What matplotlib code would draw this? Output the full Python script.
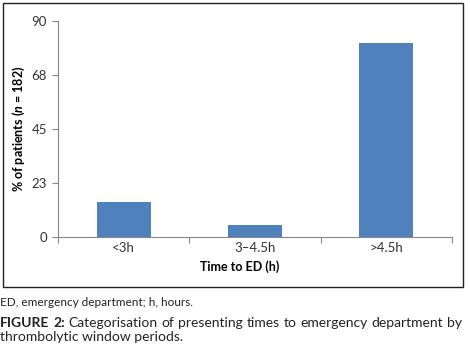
import matplotlib
matplotlib.use("Agg")
import matplotlib.pyplot as plt
from matplotlib.patches import Rectangle

# data (% of patients, n = 182)
categories = ["<3h", "3\u20134.5h", ">4.5h"]
percent = [14.3, 5.0, 80.8]
tick_vals = [0, 22.5, 45, 67.5, 90]
tick_labels = ["0", "23", "45", "68", "90"]

plt.rcParams["font.family"] = ["Lato", "DejaVu Sans"]
plt.rcParams["mathtext.fontset"] = "custom"
plt.rcParams["mathtext.bfit"] = "Lato:bold:italic"

W, H = 470, 349
fig = plt.figure(figsize=(W / 100, H / 100), dpi=100)

# outer frame round the chart
fig.patches.append(Rectangle((3 / W, 1 - 287 / H), 460 / W, 284 / H,
                             transform=fig.transFigure, fill=False,
                             edgecolor="#222222", linewidth=1.0))

ax = fig.add_axes([58 / W, 1 - 236.7 / H, 394 / W, 215.7 / H])
x = range(len(categories))
ax.bar(x, percent, width=0.41, color="#4F81BD")
ax.set_xlim(-0.5, len(categories) - 0.5)
ax.set_ylim(0, 90)
ax.set_yticks(tick_vals)
ax.set_yticklabels(tick_labels)
ax.set_xticks([i - 0.5 for i in range(len(categories) + 1)], minor=False)
ax.set_xticklabels([])
ax.set_xticks(list(x), minor=True)
ax.set_xticklabels(categories, minor=True)
ax.tick_params(axis="x", which="major", length=4, color="#868686", width=0.8)
ax.tick_params(axis="x", which="minor", length=0, labelsize=9.5, labelcolor="#333333", pad=4)
ax.tick_params(axis="y", length=4, color="#868686", width=0.8, labelsize=9.5,
               labelcolor="#333333", pad=4)
for s in ["top", "right"]:
    ax.spines[s].set_visible(False)
for s in ["left", "bottom"]:
    ax.spines[s].set_color("#868686")
    ax.spines[s].set_linewidth(0.8)

ax.set_ylabel("% of patients ($\\boldsymbol{n}$ = 182)", fontsize=9, fontweight="bold")
ax.yaxis.set_label_coords(-31 / 394, 0.5)
fig.text(240 / W, 1 - 267 / H, "Time to ED (h)", fontsize=9, fontweight="bold",
         ha="center", va="center")

# caption
fig.text(0, 1 - 306 / H, "ED, emergency department; h, hours.", fontsize=8.5,
         ha="left", va="baseline", color="#222222")

# justified first caption line
fig.canvas.draw()
r = fig.canvas.get_renderer()
line_y = 1 - 326.7 / H
words = [("FIGURE", True), ("2:", True), ("Categorisation", False), ("of", False),
         ("presenting", False), ("times", False), ("to", False), ("emergency", False),
         ("department", False), ("by", False)]
objs = []
total = 0
for w, b in words:
    t = fig.text(0, line_y, w, fontsize=10, fontweight="bold" if b else "normal",
                 ha="left", va="baseline", color="#222222")
    bb = t.get_window_extent(r)
    objs.append((t, bb.width))
    total += bb.width
gap = (462 - total) / (len(words) - 1)
pos = 0
for t, wd in objs:
    t.set_x(pos / W)
    pos += wd + gap
fig.text(0, 1 - 340.7 / H, "thrombolytic window periods.", fontsize=10,
         ha="left", va="baseline", color="#222222")

fig.savefig("out.png", dpi=100)
